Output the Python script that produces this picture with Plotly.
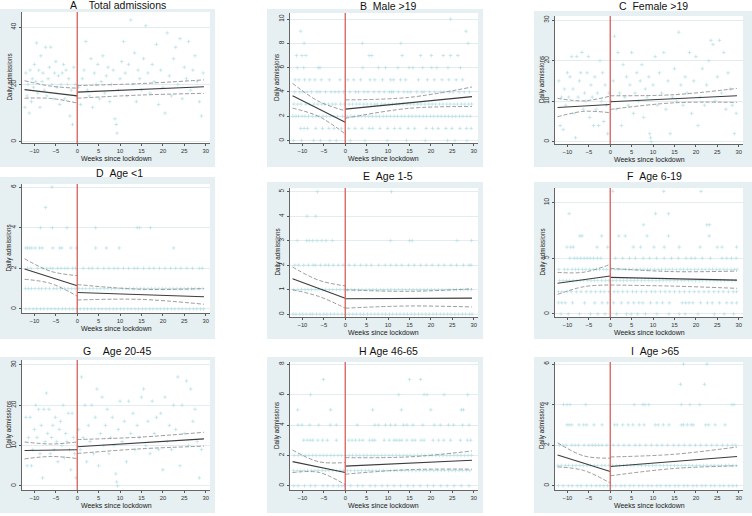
import plotly.graph_objects as go

W, H = 752, 516

# ---------------- panel text ----------------
LETTERS = ["A", "B", "C", "D", "E", "F", "G", "H", "I"]
TITLES = ["Total admissions", "Male >19", "Female >19", "Age <1", "Age 1-5",
          "Age 6-19", "Age 20-45", "Age 46-65", "Age >65"]
X_TICKS = [-10, -5, 0, 5, 10, 15, 20, 25, 30]
Y_TICKS = [[0, 20, 40], [0, 2, 4, 6, 8, 10], [0, 10, 20, 30], [0, 2, 4, 6],
           [0, 1, 2, 3, 4, 5], [0, 5, 10], [0, 10, 20, 30], [0, 2, 4, 6, 8], [0, 2, 4, 6]]

# ---------------- scatter data (daily admissions) ----------------
A_X = [-12.2, -12, -11.7, -11.5, -11.2, -11, -10.7, -10.5, -10.2, -10, -9.7, -9.5, -9.2, -9, -8.7,
       -8.5, -8.2, -8, -7.7, -7.4, -7.1, -6.8, -6.5, -6.2, -5.9, -5.6, -5.3, -5, -4.7, -4.4, -4.1,
       -3.8, -3.5, -3.2, -2.9, -2.6, -2.3, -2, -1.7, -1.4, -1.1, -0.8, -0.5, -0.2,
       0.3, 0.8, 1.2, 1.6, 2, 2.4, 2.8, 3.2, 3.6, 4, 4.4, 4.8, 5.2, 5.6, 6, 6.4, 6.8, 7.2, 7.6, 8,
       8.4, 8.8, 9.1, 9.3, 9.6, 10, 10.4, 10.8, 11.2, 11.6, 12, 12.5, 13, 13.4, 13.8, 14.2, 14.6,
       15, 15.5, 16, 16.5, 17, 17.5, 18, 18.5, 19, 19.5, 20, 20.5, 21, 21.5, 22, 22.5, 23, 23.5,
       24, 24.5, 25, 25.5, 26, 26.5, 27, 27.5, 28, 28.5, 29, 29.4]
A_Y = [12, 24, 16, 20, 10, 25, 14, 22, 19, 27, 21, 34.5, 17, 25, 12, 30, 21, 24, 18, 33, 16, 22,
       26, 33, 20, 15, 24, 28, 19, 23, 13, 20, 24, 27, 15, 25, 20, 22, 9, 18, 6, 26, 20, 16,
       19, 13, 22, 25, 35, 18, 16, 29, 12, 24, 20, 27, 15, 21, 30, 17, 23, 26, 14, 20,
       25, 8, 6, 3, 18, 22, 28, 35, 24, 16, 27, 42.5, 20, 31, 14, 25, 22,
       18, 29, 40.5, 24, 17, 27, 21, 34, 13, 25, 19, 10, 38, 23, 16, 29, 33, 20,
       36, 15, 26, 22, 35, 18, 25, 30, 21, 14, 9, 24]

C_X = [-12, -11.7, -11.4, -11, -10.7, -10.4, -10, -9.7, -9.4, -9, -8.7, -8.4, -8.1, -7.8, -7.5,
       -7.2, -6.9, -6.6, -6.3, -6, -5.7, -5.4, -5.1, -4.8, -4.5, -4.2, -3.9, -3.6, -3.3, -3, -2.7,
       -2.4, -2.1, -1.8, -1.5, -1.2, -0.9, -0.6, -0.3,
       0.3, 0.7, 1, 1.4, 1.8, 2.2, 2.6, 3, 3.4, 3.8, 4.2, 4.6, 5, 5.4, 5.8, 6.2, 6.6, 7, 7.4, 7.8,
       8.2, 8.6, 9, 9.2, 9.4, 9.6, 10, 10.5, 11, 11.5, 12, 12.5, 13, 13.5, 14, 14.5, 15, 15.5, 16,
       16.5, 17, 17.5, 18, 18.5, 19, 19.5, 20, 20.5, 21, 21.5, 22, 22.5, 23, 23.5, 24, 24.5, 25,
       25.5, 26, 26.5, 27, 27.5, 28, 28.5, 29, 29.4]
C_Y = [15, 4, 11, 3, 13, 9, 17, 11, 16, 21, 13, 7, 1, 21, 11, 15, 17, 22, 8, 12, 10, 17, 21, 6,
       14, 11, 4, 16, 8, 12, 4, 20, 10, 17, 5, 14, 9, 2, 12,
       10, 15, 26, 8, 22, 12, 4, 19, 11, 16, 9, 14, 22, 7, 12, 17, 10, 15, 19, 6,
       13, 11, 16, 2, 1, 0, 14, 21, 9, 17, 12, 22, 8, 15, 2, 11, 18, 10, 27,
       14, 9, 16, 12, 22, 7, 15, 21, 4, 11, 18, 9, 14, 20, 25, 24, 10, 16,
       25, 12, 22, 8, 17, 13, 9, 2, 7]

G_X = C_X
G_Y = [17, 5, 12, 17, 5, 9, 14, 20, 12, 19, 8, 15, 2, 19, 11, 23, 13, 19, 8, 12, 15, 9, 17, 11,
       6, 14, 16, 10, 20, 7, 13, 11, 18, 9, 4, 18, 12, 8, 2,
       14, 9, 27, 12, 20, 6, 15, 11, 20, 8, 17, 24, 5, 13, 22, 10, 15, 19, 8,
       12, 17, 10, 3, 1, 0, 14, 21, 11, 16, 6, 21, 13, 18, 9, 15, 12, 22, 24,
       10, 16, 8, 21, 13, 17, 9, 18, 4, 22, 11, 15, 9, 20, 14, 27, 5, 20,
       13, 26, 10, 24, 16, 19, 11, 2, 9]

B_LEVELS = {
    0: [-12.1, -10.2, -7.4, -5.8, -3.6, -2.1, 1.2, 4.6, 9.8, 14.3, 18.7, 23.9, 25.6, 28.4],
    1: [-10.4, -9.6, -8.8, -6.9, -5.3, -3.8, -2.6, -0.9, 0.8, 2.3, 3.9, 5.6, 6.4, 8.1, 9.9, 11.5,
        12.8, 14.7, 16.2, 18.9, 20.4, 21.7, 23.5, 24.9, 26.8, 28.3, 29.4],
    2: [-12.2, -11.5, -10.9, -10.1, -9.4, -8.6, -7.7, -6.8, -6.1, -5.2, -4.4, -3.5, -2.7, -1.8,
        -0.6, 0.4, 1.3, 2.1, 3.0, 3.8, 4.7, 5.5, 6.3, 7.2, 8.0, 8.9, 9.7, 10.5, 11.4, 12.2, 13.1,
        13.9, 14.8, 15.6, 16.5, 17.3, 18.2, 19.0, 19.9, 20.7, 21.6, 22.4, 23.3, 24.1, 25.0, 25.8,
        26.7, 27.5, 28.4, 29.2],
    3: [-12.0, -11.1, -10.3, -9.2, -8.4, -7.3, -6.4, -5.5, -4.8, -3.9, -3.0, -2.2, -1.1, -0.2,
        0.9, 1.7, 2.6, 3.4, 4.3, 5.1, 6.0, 6.9, 7.5, 8.5, 9.3, 10.2, 11.0, 11.9, 12.6, 13.5, 14.4,
        15.2, 16.0, 16.9, 17.7, 18.6, 19.5, 20.3, 21.1, 22.0, 22.8, 23.7, 24.5, 25.4, 26.2, 27.1,
        27.9, 28.8, 29.5],
    4: [-11.8, -10.6, -9.9, -8.9, -7.9, -6.6, -5.9, -4.6, -3.3, -2.4, -1.5, -0.4, 1.1, 2.4, 3.1,
        4.4, 5.3, 6.7, 7.9, 9.1, 10.3, 10.8, 11.2, 12.4, 13.7, 14.6, 15.3, 16.7, 17.9, 18.4, 19.7,
        20.9, 22.2, 23.1, 24.3, 25.2, 26.6, 27.8, 29.0],
    5: [-11.7, -10.8, -9.5, -8.3, -7.1, -5.6, -3.7, -1.2, 0.6, 2.0, 3.6, 5.8, 6.9, 8.7, 10.6,
        11.3, 12.9, 14.1, 17.1, 19.2, 20.8, 22.6, 24.2, 25.9, 27.4],
    6: [-11.2, -9.7, -6.3, -5.9, 4.1, 7.8, 9.4, 12.3, 14.9, 15.8, 18.1, 20.2, 21.4, 24.0, 26.9],
    7: [-11.4, -10.1, -9.2, 5.6, 6.2, 13.3, 17.6, 20.1, 22.9, 24.6, 26.3],
    8: [-9.6, 4.0, 13.0, 28.7],
    9: [-10.4, 28.2],
    10: [24.6],
}

D_LEVELS = {
    0: [-12.0, -11.2, -10.3, -9.5, -8.6, -7.8, -6.9, -6.1, -5.2, -4.4, -3.5, -2.7, -1.8, -1.0,
        -0.1, 0.7, 1.6, 2.4, 3.3, 4.1, 5.0, 5.8, 6.7, 7.5, 8.4, 9.2, 10.1, 10.9, 11.8, 12.6, 13.5,
        14.3, 15.2, 16.0, 16.9, 17.7, 18.6, 19.4, 20.3, 21.1, 22.0, 22.8, 23.7, 24.5, 25.4, 26.2,
        27.1, 27.9, 28.8, 29.5],
    1: [-12.1, -11.4, -10.7, -9.9, -9.0, -8.3, -7.4, -6.5, -5.5, -4.8, -3.9, -3.0, -2.1, -1.3,
        -0.5, 0.4, 1.2, 2.0, 2.9, 3.7, 4.6, 5.4, 6.3, 7.1, 8.0, 8.8, 9.7, 10.5, 11.4, 12.2, 13.1,
        13.9, 14.8, 15.6, 16.5, 17.3, 18.2, 19.0, 19.9, 20.7, 21.6, 22.4, 23.3, 24.1, 25.0, 25.8,
        26.7, 27.5, 28.4, 29.3],
    2: [-11.6, -10.8, -9.2, -8.0, -7.1, -6.3, -5.7, -4.6, -3.8, -2.9, -2.2, -1.1, -0.4, 1.4, 2.7,
        3.5, 4.8, 6.2, 7.4, 8.6, 9.5, 10.8, 12.0, 13.3, 14.1, 15.5, 16.8, 17.9, 19.2, 20.5, 21.8,
        23.0, 24.2, 25.6, 26.9, 28.5, 29.2],
    3: [-12.0, -11.6, -11.1, -10.6, -9.8, -8.8, -8.2, -5.7, -4.1, -3.6, -1.5, -0.2, 4.3, 6.8,
        9.8, 22.5],
    4: [-8.6, -5.8, -2.4, 4.3, 14.0, 14.6, 17.1],
    5: [-7.4],
    6: [-5.9],
}

E_LEVELS = {
    0: [-12.2, -11.5, -10.6, -9.9, -9.1, -8.2, -7.6, -6.7, -5.9, -5.0, -4.3, -3.4, -2.6, -1.7,
        -0.8, 0.1, 0.9, 1.8, 2.6, 3.5, 4.3, 5.2, 6.0, 6.9, 7.7, 8.6, 9.4, 10.3, 11.1, 12.0, 12.8,
        13.7, 14.5, 15.4, 16.2, 17.1, 17.9, 18.8, 19.6, 20.5, 21.3, 22.2, 23.0, 23.9, 24.7, 25.6,
        26.4, 27.3, 28.1, 29.0, 29.6],
    1: [-12.0, -11.1, -10.2, -9.4, -8.7, -7.9, -7.0, -6.3, -5.4, -4.6, -3.7, -2.9, -2.0, -1.2,
        -0.3, 0.5, 1.4, 2.2, 3.1, 3.9, 4.8, 5.6, 6.5, 7.3, 8.2, 9.0, 9.9, 10.7, 11.6, 12.4, 13.3,
        14.1, 15.0, 15.8, 16.7, 17.5, 18.4, 19.2, 20.1, 20.9, 21.8, 22.6, 23.5, 24.3, 25.2, 26.0,
        26.9, 27.7, 28.6, 29.4],
    2: [-11.8, -10.9, -9.7, -8.6, -7.5, -6.9, -5.8, -4.7, -3.9, -2.8, -1.6, -0.5, 0.9, 2.2, 3.6,
        4.9, 6.1, 7.8, 9.3, 10.6, 11.9, 13.2, 14.8, 16.1, 17.6, 18.9, 20.3, 21.8, 23.1, 24.7,
        26.0, 27.6, 28.9, 29.4],
    3: [-11.2, -9.0, -8.4, -7.6, -6.6, -5.5, -4.5, -3.0, 10.6, 15.0, 15.6, 26.1, 29.5],
    4: [-8.9, -6.9],
    5: [-6.5, 10.8],
}

F_LEVELS = {
    0: [-11.5, -9.8, -7.2, -4.6, -2.9, -1.2, 1.5, 3.8, 4.9, 6.4, 8.2, 10.9, 13.7, 16.1, 17.5,
        20.5, 24.3, 26.6, 28.8],
    1: [-12.1, -11.3, -10.5, -8.8, -6.0, -3.6, -1.9, -0.6, 0.8, 2.6, 4.2, 5.5, 6.7, 7.6, 9.4,
        10.9, 12.2, 13.8, 16.8, 17.6, 18.4, 19.3, 21.1, 22.7, 23.8, 25.5, 27.2, 28.4, 29.5],
    2: [-12.1, -11.3, -10.0, -9.1, -7.9, -6.8, -5.6, -4.5, -3.4, -2.3, -1.4, -0.3, 0.9, 1.8, 2.9,
        4.0, 5.2, 6.1, 7.3, 8.4, 9.6, 10.5, 11.7, 12.8, 13.9, 15.0, 16.2, 17.3, 18.5, 19.6, 20.7,
        21.9, 23.0, 24.2, 25.3, 26.4, 27.6, 28.7, 29.5],
    3: [-11.8, -11.0, -10.2, -9.5, -8.7, -7.8, -7.0, -6.2, -5.3, -4.5, -3.7, -2.9, -2.0, -1.1,
        -0.3, 0.6, 1.4, 2.3, 3.1, 3.9, 4.8, 5.6, 6.4, 7.3, 8.1, 9.0, 9.8, 10.7, 11.5, 12.3, 13.2,
        14.0, 14.9, 15.7, 16.6, 17.4, 18.3, 19.1, 19.9, 20.8, 21.6, 22.5, 23.3, 24.2, 25.0, 25.8,
        26.7, 27.5, 28.4, 29.2],
    4: [-12.0, -10.7, -9.9, -8.9, -8.1, -7.4, -6.5, -5.7, -4.8, -4.0, -3.2, -2.5, -1.6, -0.8,
        0.2, 1.1, 1.9, 2.7, 3.6, 4.4, 5.3, 6.2, 7.0, 7.9, 8.7, 9.4, 10.3, 11.2, 12.0, 12.9, 13.7,
        14.5, 15.4, 16.3, 17.1, 18.0, 18.8, 19.7, 20.5, 21.4, 22.2, 23.1, 23.9, 24.8, 25.6, 26.5,
        27.3, 28.2, 29.0, 29.6],
    5: [-9.4, -8.4, -7.7, -6.9, -6.1, -5.4, -4.7, -3.9, -3.0, -2.2, 1.2, 2.9, 4.5, 5.9, 7.7, 9.2,
        10.8, 12.6, 14.3, 15.9, 17.7, 18.9, 19.8, 21.5, 23.4, 26.1, 27.2, 28.3, 29.4],
    6: [-10.1, -9.2, -8.6, -3.1, -0.6, 5.4, 7.1, 10.2, 12.6, 16.1, 21.0, 25.0, 26.1, 29.5],
    7: [-7.1, -6.6, -2.0, 2.0, 3.5, 8.6, 13.6, 23.1],
    8: [7.8, 22.6, 23.2],
    9: [-9.6, 10.6, 13.6],
    11: [0.6, 12.5, 21.2],
}

H_LEVELS = {
    0: [-12.0, -11.0, -9.5, -8.1, -7.0, -5.2, -4.1, -2.8, -1.6, -0.8, -0.2, 1.3, 2.9, 4.1, 5.8,
        7.0, 8.6, 9.9, 11.4, 12.9, 14.6, 15.9, 17.5, 19.2, 20.6, 22.3, 23.8, 25.4, 27.1, 28.9],
    1: [-12.1, -11.2, -10.4, -9.6, -8.8, -7.9, -7.1, -6.3, -5.4, -4.6, -3.8, -2.9, -2.1, -1.2,
        -0.4, 0.5, 1.3, 2.2, 3.0, 3.8, 4.7, 5.5, 6.3, 7.2, 8.0, 8.9, 9.7, 10.6, 11.4, 12.2, 13.1,
        13.9, 14.8, 15.6, 16.5, 17.3, 18.2, 19.0, 19.8, 20.7, 21.5, 22.4, 23.2, 24.1, 24.9, 25.7,
        26.6, 27.4, 28.3, 29.1],
    2: [-11.9, -11.0, -10.1, -9.3, -8.5, -7.6, -6.8, -5.9, -5.1, -4.3, -3.4, -2.6, -1.7, -0.9,
        0.1, 0.9, 1.7, 2.6, 3.4, 4.3, 5.1, 6.0, 6.8, 7.6, 8.5, 9.3, 10.2, 11.0, 11.9, 12.7, 13.6,
        14.4, 15.2, 16.1, 16.9, 17.8, 18.6, 19.5, 20.3, 21.1, 22.0, 22.8, 23.7, 24.5, 25.4, 26.2,
        27.0, 27.9, 28.7, 29.5],
    3: [-9.7, -8.9, -8.2, -7.6, -6.4, -5.3, -4.2, -2.1, 0.8, 1.6, 2.4, 3.3, 4.1, 5.7, 6.4, 6.9,
        9.1, 10.3, 11.4, 11.9, 12.6, 13.2, 14.4, 15.6, 16.3, 17.7, 18.4, 20.5, 21.8, 23.0, 24.6,
        26.9, 28.5, 29.3],
    4: [-11.0, -10.1, -8.3, -6.2, -3.5, -2.1, 2.8, 6.9, 7.8, 9.4, 10.6, 11.7, 13.6, 14.4, 15.8,
        18.1, 20.8, 22.2, 24.1, 25.3, 27.4, 28.9],
    5: [-11.1, -3.4, 6.4, 13.1, 20.0, 27.1, 27.6],
    6: [-8.1, 12.5, 18.4, 19.1, 23.1, 28.6],
    7: [-5.1, 15.0, 17.6],
}

I_LEVELS = {
    0: [-12.1, -11.0, -9.8, -8.9, -7.7, -6.8, -5.5, -4.4, -3.3, -2.4, -1.5, -0.6, 0.4, 1.3, 2.5,
        3.4, 4.6, 5.5, 6.7, 7.6, 8.8, 9.7, 10.9, 11.8, 13.0, 13.9, 15.1, 16.0, 17.2, 18.1, 19.3,
        20.2, 21.4, 22.3, 23.5, 24.4, 25.6, 26.5, 27.7, 28.6, 29.5],
    1: [-12.2, -11.4, -10.5, -9.7, -8.8, -8.0, -7.1, -6.3, -5.4, -4.6, -3.7, -2.9, -2.0, -1.2,
        -0.3, 0.5, 1.4, 2.2, 3.1, 3.9, 4.8, 5.6, 6.5, 7.3, 8.2, 9.0, 9.9, 10.7, 11.6, 12.4, 13.3,
        14.1, 15.0, 15.8, 16.7, 17.5, 18.4, 19.2, 20.1, 20.9, 21.8, 22.6, 23.5, 24.3, 25.2, 26.0,
        26.9, 27.7, 28.6, 29.4],
    2: [-11.9, -11.1, -10.3, -9.0, -8.2, -7.4, -6.1, -5.0, -4.2, -3.5, -2.7, -1.9, -0.8, 0.7, 1.9,
        3.2, 4.4, 5.8, 6.9, 8.3, 9.6, 10.9, 12.1, 13.4, 14.8, 16.0, 17.3, 18.6, 19.9, 21.1, 22.4,
        23.7, 24.9, 26.2, 27.4, 28.5, 29.3],
    3: [-10.1, -9.6, -9.0, -7.3, -6.2, -5.5, -3.8, -1.9, 1.0, 1.6, 2.9, 4.2, 5.3, 6.8, 7.9, 10.5,
        11.2, 12.4, 13.7, 16.6, 17.1, 18.0, 18.9, 19.4, 22.3, 23.0, 24.5, 26.8],
    4: [-10.9, -10.1, -9.4, -5.7, 5.6, 7.6, 8.1, 9.0, 16.6, 18.6, 20.9, 28.4, 28.9],
    5: [16.4, 22.0],
    6: [17.1, 22.6],
}

# ---------------- segmented regression fit and 95% CI ----------------
X_PRE = [-12.3, -6.15, 0]
X_POST = [0, 14.8, 29.6]
FIT_PRE = [(18.2, 16.0), (3.68, 1.50), (8.46, 9.20), (1.97, 1.14), (1.44, 0.65),
           (2.75, 3.40), (8.80, 8.96), (1.59, 0.87), (1.52, 0.70)]
FIT_POST = [(17.3, 19.2), (2.59, 3.62), (9.86, 11.34), (0.81, 0.60), (0.625, 0.65),
            (3.28, 3.04), (9.70, 11.67), (1.29, 1.68), (0.95, 1.44)]
CI_PRE_UP = [(21.3, 19.4, 18.7), (4.71, 3.22, 2.45), (10.7, 10.1, 11.26), (2.47, 1.85, 1.64),
             (1.92, 1.38, 1.15), (3.73, 3.75, 4.45), (10.9, 10.4, 10.9), (2.35, 1.58, 1.53),
             (2.12, 1.47, 1.36)]
CI_PRE_LO = [(15.2, 15.1, 13.5), (2.67, 1.98, 0.54), (6.16, 7.5, 7.15), (1.46, 1.25, 0.63),
             (0.99, 0.72, 0.24), (1.76, 2.45, 2.60), (6.7, 7.3, 6.8), (0.87, 0.88, 0.07),
             (0.93, 0.75, 0.13)]
CI_POST_UP = [(19.6, 20.3, 21.6), (3.35, 3.55, 4.41), (11.34, 11.6, 13.15), (1.20, 0.97, 1.00),
              (0.99, 0.93, 1.03), (4.09, 3.80, 3.85), (11.5, 12.1, 13.3), (1.85, 1.90, 2.29),
              (1.42, 1.55, 1.91)]
CI_POST_LO = [(15.2, 16.3, 16.9), (1.83, 2.65, 2.80), (7.97, 9.6, 9.70), (0.44, 0.47, 0.23),
              (0.24, 0.33, 0.29), (2.60, 2.50, 2.30), (8.05, 9.2, 9.86), (0.76, 1.06, 1.09),
              (0.49, 0.85, 0.98)]

# ---------------- layout geometry (pixels) ----------------
Y_RANGES = [[-0.45, 45.3], [-0.2, 10.5], [-0.55, 31.0], [-0.2, 6.15], [-0.12, 5.15],
            [-0.27, 11.3], [-1.0, 31.2], [-0.28, 8.15], [-0.21, 6.1]]
X_RANGE = [-12.9, 31.0]
PLOT_BOX = [(22, 12, 210, 143), (290, 13, 478, 143), (555, 16, 743, 144),
            (22, 184, 210, 313), (290, 188, 478, 317), (555, 188, 743, 317),
            (22, 360, 210, 490), (290, 362, 478, 490), (555, 362, 743, 490)]
# white areas between the tinted panel backgrounds (x0, y0, x1, y1)
GAP_BOX = [(0, 0, 752, 9), (534, 9, 752, 11), (215, 0, 267, 516), (483, 0, 534, 516),
           (0, 167, 752, 177), (267, 177, 752, 182), (0, 339, 752, 357), (0, 513, 752, 516)]
TITLE_POS = [(118, 5), (388, 6), (653, 6), (119, 173), (388, 176), (654, 176),
             (117, 351), (388, 351), (655, 351)]
TITLE_GAP = [4, 2, 2, 2, 2, 2, 4, 1, 2]


def levels_to_xy(levels):
    xs, ys = [], []
    for lvl, xlist in levels.items():
        xs.extend(xlist)
        ys.extend([lvl] * len(xlist))
    return xs, ys


POINTS = [(A_X, A_Y), levels_to_xy(B_LEVELS), (C_X, C_Y), levels_to_xy(D_LEVELS),
          levels_to_xy(E_LEVELS), levels_to_xy(F_LEVELS), (G_X, G_Y),
          levels_to_xy(H_LEVELS), levels_to_xy(I_LEVELS)]

FONT = "Liberation Sans, Arial, sans-serif"
BG = "#e6eff1"
PT_COLOR = "#b2dfe5"
FIT_COLOR = "#3c3c3c"
CI_COLOR = "#8e8e8e"
VLINE = "#d65f5a"

fig = go.Figure()
shapes, annotations = [], []

for g in GAP_BOX:
    shapes.append(dict(type="rect", xref="paper", yref="paper", layer="above",
                       x0=g[0] / W, x1=g[2] / W, y0=1 - g[3] / H, y1=1 - g[1] / H,
                       fillcolor="white", line=dict(width=0)))

for i in range(9):
    sfx = "" if i == 0 else str(i + 1)
    xa, ya = "x" + sfx, "y" + sfx
    px, py = POINTS[i]
    fig.add_trace(go.Scatter(x=px, y=py, mode="markers", xaxis=xa, yaxis=ya,
                             marker=dict(symbol="cross-thin", size=2.6,
                                         line=dict(color=PT_COLOR, width=0.7)),
                             showlegend=False, hoverinfo="skip"))
    for xs, up, lo in ((X_PRE, CI_PRE_UP[i], CI_PRE_LO[i]), (X_POST, CI_POST_UP[i], CI_POST_LO[i])):
        for yy in (up, lo):
            fig.add_trace(go.Scatter(x=xs, y=list(yy), mode="lines", xaxis=xa, yaxis=ya,
                                     line=dict(color=CI_COLOR, width=0.9, dash="4px,2px", shape="spline"),
                                     showlegend=False, hoverinfo="skip"))
    fig.add_trace(go.Scatter(x=[X_PRE[0], X_PRE[-1]], y=list(FIT_PRE[i]), mode="lines",
                             xaxis=xa, yaxis=ya, line=dict(color=FIT_COLOR, width=1.1),
                             showlegend=False, hoverinfo="skip"))
    fig.add_trace(go.Scatter(x=[X_POST[0], X_POST[-1]], y=list(FIT_POST[i]), mode="lines",
                             xaxis=xa, yaxis=ya, line=dict(color=FIT_COLOR, width=1.1),
                             showlegend=False, hoverinfo="skip"))

    b = PLOT_BOX[i]
    axis_common = dict(ticks="outside", tickwidth=0.8, tickcolor="#555",
                       showline=True, linecolor="#666", linewidth=0.8, zeroline=False,
                       fixedrange=True)
    fig.update_layout(**{
        "xaxis" + sfx: dict(domain=[b[0] / W, b[2] / W], anchor=ya, range=X_RANGE,
                            tickvals=X_TICKS, showgrid=False, ticklen=2,
                            tickfont=dict(family=FONT, size=5.8, color="#333"), **axis_common),
        "yaxis" + sfx: dict(domain=[1 - b[3] / H, 1 - b[1] / H], anchor=xa, range=Y_RANGES[i],
                            tickvals=Y_TICKS[i], tickangle=-90, showgrid=True, ticklen=2.5,
                            gridcolor="#e3ecee", gridwidth=0.8,
                            tickfont=dict(family=FONT, size=6.4, color="#333"), **axis_common),
    })
    shapes.append(dict(type="line", xref=xa, yref=ya + " domain", x0=0, x1=0, y0=0, y1=1,
                       line=dict(color=VLINE, width=1.3)))

    tx, ty = TITLE_POS[i]
    annotations.append(dict(text=LETTERS[i] + "\u00a0" * TITLE_GAP[i] + TITLES[i],
                            xref="paper", yref="paper", x=tx / W, y=1 - ty / H,
                            xanchor="center", yanchor="middle", showarrow=False,
                            font=dict(family=FONT, size=10.5, color="#111")))
    annotations.append(dict(text="Daily admissions", xref="paper", yref="paper",
                            x=(b[0] - 13) / W, y=1 - (b[1] + b[3]) / 2 / H, textangle=-90,
                            xanchor="center", yanchor="middle", showarrow=False,
                            font=dict(family=FONT, size=6.3, color="#222")))
    annotations.append(dict(text="Weeks since lockdown", xref="paper", yref="paper",
                            x=(b[0] + b[2]) / 2 / W, y=1 - (b[3] + 15) / H,
                            xanchor="center", yanchor="middle", showarrow=False,
                            font=dict(family=FONT, size=7, color="#222")))

fig.update_layout(width=W, height=H, margin=dict(l=0, r=0, t=0, b=0),
                  paper_bgcolor=BG, plot_bgcolor="white",
                  shapes=shapes, annotations=annotations, showlegend=False)

fig.write_html("out.html", config={"displayModeBar": False},
               post_script="document.body.style.margin='0px';")
